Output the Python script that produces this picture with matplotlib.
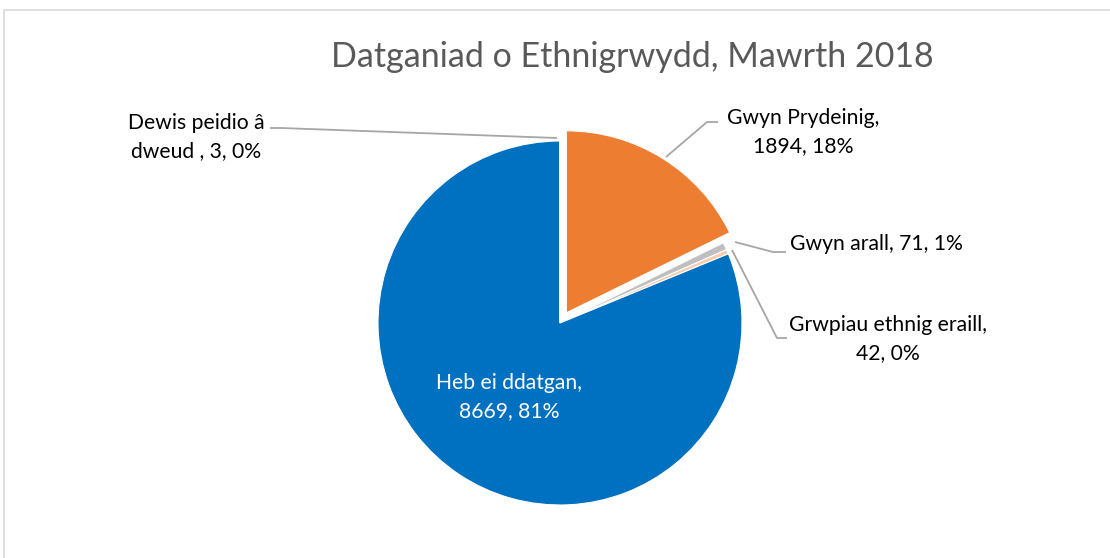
import matplotlib
matplotlib.use("Agg")
import matplotlib.pyplot as plt
from matplotlib.patches import Rectangle

title = "Datganiad o Ethnigrwydd, Mawrth 2018"
categories = ["Gwyn Prydeinig", "Gwyn arall", "Grwpiau ethnig eraill",
              "Heb ei ddatgan", "Dewis peidio â dweud "]
values = [1894, 71, 42, 8669, 3]
percent_labels = ["18%", "1%", "0%", "81%", "0%"]
colors = ["#ED7D31", "#BFBFBF", "#F8CBAD", "#0070C0", "#D9D9D9"]

FONT = ["Lato", "DejaVu Sans"]
W, H = 1110, 558
fig = plt.figure(figsize=(W / 100, H / 100), dpi=100)
ax = fig.add_axes([0, 0, 1, 1])
ax.set_xlim(0, W)
ax.set_ylim(0, H)
ax.set_aspect("equal")
ax.axis("off")

def Y(y):
    return H - y

# chart border
ax.add_patch(Rectangle((3.5, Y(600)), 1200, 600 - 9.5, fill=False,
                       edgecolor="#D9D9D9", linewidth=1.2))

cx, cy, r = 560, 323, 182
explode = [12, 0, 0, 0, 0]   # offset in axes units (pixels here)
ax.pie(values, colors=colors, explode=explode, startangle=90,
       counterclock=False, center=(cx, Y(cy)), radius=r,
       wedgeprops=dict(edgecolor="white", linewidth=0.8), frame=True)
ax.set_xlim(0, W)
ax.set_ylim(0, H)
ax.axis("off")

ax.text(632, Y(57), title, fontsize=24.5, color="#595959", family=FONT,
        ha="center", va="center")

lc = "#A6A6A6"
def leader(pts):
    xs = [p[0] for p in pts]
    ys = [Y(p[1]) for p in pts]
    ax.plot(xs, ys, color=lc, linewidth=1.3, solid_capstyle="butt")

tk = dict(fontsize=15.2, family=FONT, color="#000000", linespacing=1.55)

# Gwyn Prydeinig
ax.text(803, Y(132), f"{categories[0]},\n{values[0]}, {percent_labels[0]}",
        ha="center", va="center", **tk)
leader([(666, 157), (707, 122), (718, 122)])

# Gwyn arall
ax.text(790, Y(244), f"{categories[1]}, {values[1]}, {percent_labels[1]}",
        ha="left", va="center", **tk)
leader([(735, 242), (773, 252), (786, 252)])

# Grwpiau ethnig eraill
ax.text(888, Y(339), f"{categories[2]},\n{values[2]}, {percent_labels[2]}",
        ha="center", va="center", **tk)
leader([(732, 250), (777, 338), (787, 338)])

# Heb ei ddatgan
ax.text(509, Y(397), f"{categories[3]},\n{values[3]}, {percent_labels[3]}",
        ha="center", va="center", fontsize=15.2, family=FONT, color="white",
        linespacing=1.55)

# Dewis peidio
ax.text(196, Y(137), "Dewis peidio â\ndweud , 3, 0%",
        ha="center", va="center", **tk)
leader([(557, 138), (281, 128), (270, 128)])

fig.savefig("out.png", dpi=100)
